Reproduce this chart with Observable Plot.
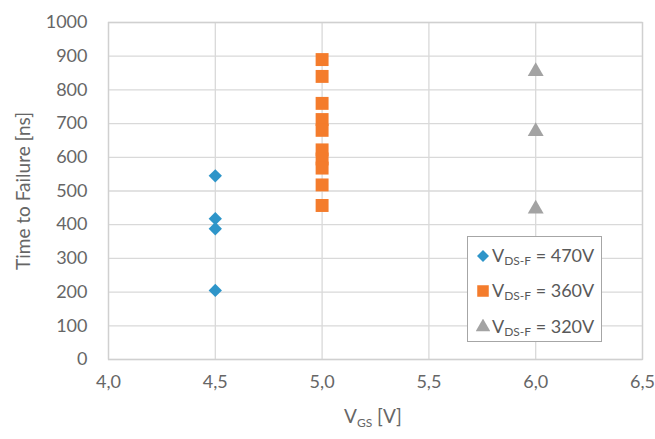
<!DOCTYPE html>
<html>
<head>
<meta charset="utf-8">
<script src="https://cdn.jsdelivr.net/npm/d3@7"></script>
<script src="https://cdn.jsdelivr.net/npm/@observablehq/plot@0.6"></script>
<style>
  html, body { margin: 0; padding: 0; background: #fff; }
  #wrap { position: relative; width: 655px; height: 439px; font-family: Lato, "Open Sans", sans-serif; color: #666; }
  #legend { position: absolute; left: 467px; top: 236px; width: 135px; height: 106px; box-sizing: border-box;
            border: 1.5px solid #a6a6a6; background: #fff; }
  #legend .row { position: absolute; left: 8px; height: 20px; display: flex; align-items: center; font-size: 18px; color: #595959; white-space: nowrap; }
  #legend .row svg { margin-right: 2px; }
  #legend sub { font-size: 12px; vertical-align: -3px; }
</style>
</head>
<body>
<div id="wrap"></div>
<script>
// ---- data ----
const seriesNames = ["470V", "360V", "320V"];
const seriesColors = ["#2E95C9", "#F47C2C", "#A3A3A3"];
const seriesSymbols = ["diamond2", "square", "triangle"];
const vgs470 = [4.5, 4.5, 4.5, 4.5];
const ttf470 = [545, 418, 388, 205];
const vgs360 = [5.0, 5.0, 5.0, 5.0, 5.0, 5.0, 5.0, 5.0, 5.0, 5.0];
const ttf360 = [890, 840, 760, 712, 680, 622, 595, 568, 518, 457];
const vgs320 = [6.0, 6.0, 6.0];
const ttf320 = [855, 677, 447];
const xTicks = [4.0, 4.5, 5.0, 5.5, 6.0, 6.5];
const yTicks = [0, 100, 200, 300, 400, 500, 600, 700, 800, 900, 1000];

const rows = [];
[[vgs470, ttf470], [vgs360, ttf360], [vgs320, ttf320]].forEach(([xs, ys], i) => {
  xs.forEach((x, j) => rows.push({vgs: x, ttf: ys[j], s: seriesNames[i]}));
});

const fmtX = d => d.toFixed(1).replace(".", ",");
const fmtY = d => String(d);
const sizes = {"470V": 6.0, "360V": 7.3, "320V": 5.9};

const chart = Plot.plot({
  width: 655, height: 439,
  marginLeft: 108, marginRight: 13, marginTop: 22, marginBottom: 80,
  style: {fontFamily: "Lato, 'Open Sans', sans-serif", fontSize: "18px", color: "#666", background: "#fff"},
  x: {domain: [4, 6.5], label: null},
  y: {domain: [0, 1000], label: null},
  color: {domain: seriesNames, range: seriesColors},
  symbol: {domain: seriesNames, range: seriesSymbols},
  marks: [
    Plot.gridX(xTicks, {stroke: "#d9d9d9", strokeOpacity: 1, strokeWidth: 1.3}),
    Plot.gridY(yTicks, {stroke: "#d9d9d9", strokeOpacity: 1, strokeWidth: 1.3}),
    Plot.frame({stroke: "#d0d0d0", strokeWidth: 1.3}),
    Plot.axisX(xTicks, {tickSize: 0, tickPadding: 16, tickFormat: fmtX, label: null, fill: "#666"}),
    Plot.axisY(yTicks, {tickSize: 0, tickPadding: 21, tickFormat: fmtY, label: null, fill: "#666"}),
    ...seriesNames.map(n => Plot.dot(rows.filter(r => r.s === n), {
      x: "vgs", y: "ttf", symbol: "s", fill: "s", stroke: "none", r: sizes[n]
    }))
  ]
});

const svg = d3.select(chart);
// y axis title
svg.append("text")
  .attr("transform", "translate(25,191) rotate(-90)")
  .attr("text-anchor", "middle").attr("dominant-baseline", "middle")
  .attr("fill", "#666").style("font-size", "19px")
  .text("Time to Failure [ns]");
// x axis title with subscript
const xt = svg.append("text")
  .attr("x", 373).attr("y", 423).attr("text-anchor", "middle")
  .attr("fill", "#666").style("font-size", "19px");
xt.append("tspan").text("V");
xt.append("tspan").attr("dy", 4).style("font-size", "12px").text("GS");
xt.append("tspan").attr("dy", -4).text(" [V]");

const wrap = document.getElementById("wrap");
wrap.appendChild(chart);

// legend
const legend = document.createElement("div");
legend.id = "legend";
const tops = [9, 44, 80];
seriesNames.forEach((n, i) => {
  const row = document.createElement("div");
  row.className = "row";
  row.style.top = tops[i] + "px";
  const sym = {diamond2: d3.symbolDiamond2, square: d3.symbolSquare, triangle: d3.symbolTriangle}[seriesSymbols[i]];
  const r = i === 1 ? 6.5 : 5.4;
  const p = d3.symbol(sym, Math.PI * r * r)();
  row.innerHTML = `<svg width="14" height="16" viewBox="-7 -8 14 16"><path d="${p}" fill="${seriesColors[i]}"/></svg>` +
    `<span>V<sub>DS-F</sub> = ${n}</span>`;
  legend.appendChild(row);
});
wrap.appendChild(legend);
</script>
</body>
</html>
